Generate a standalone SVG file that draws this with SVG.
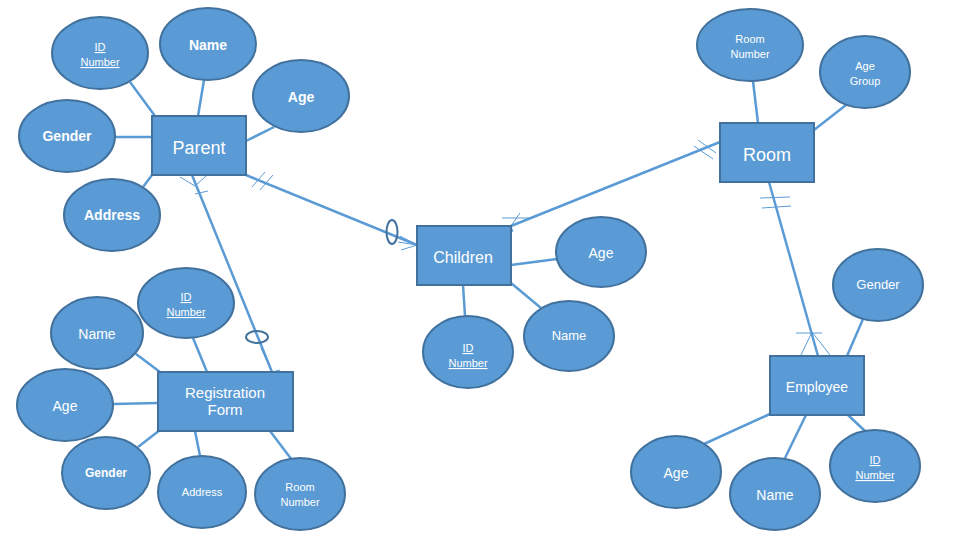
<svg xmlns="http://www.w3.org/2000/svg" width="960" height="540" viewBox="0 0 960 540">
<style>
.e{fill:#5b9bd5;stroke:#41719c;stroke-width:2}
.r{fill:#5b9bd5;stroke:#41719c;stroke-width:2}
.l{stroke:#5b9bd5;stroke-width:2.5;fill:none}
.t{stroke:#5b9bd5;stroke-width:1;fill:none}
text{fill:#fff;font-family:"Liberation Sans",sans-serif;text-anchor:middle}
.s{font-size:11px}.m{font-size:14px}.b{font-size:18px}
.u{text-decoration:underline}
</style>
<rect width="960" height="540" fill="#fff"/>
<g id="connectors">
<line class="l" x1="130" y1="82" x2="155" y2="116"/>
<line class="l" x1="204" y1="80" x2="198" y2="116"/>
<line class="l" x1="274" y1="127" x2="246" y2="141"/>
<line class="l" x1="115" y1="137" x2="152" y2="137"/>
<line class="l" x1="143" y1="187" x2="152" y2="175"/>
<line class="l" x1="246" y1="175" x2="417" y2="245"/>
<line class="l" x1="192" y1="175" x2="272" y2="372"/>
<line class="l" x1="720" y1="142" x2="511" y2="226"/>
<line class="l" x1="769" y1="182" x2="818" y2="356"/>
<line class="l" x1="753" y1="81" x2="758" y2="123"/>
<line class="l" x1="846" y1="105" x2="814" y2="130"/>
<line class="l" x1="511" y1="265" x2="557" y2="259"/>
<line class="l" x1="511" y1="283" x2="541" y2="308"/>
<line class="l" x1="463" y1="285" x2="465" y2="316"/>
<line class="l" x1="863" y1="319" x2="847" y2="356"/>
<line class="l" x1="770" y1="414" x2="704" y2="444"/>
<line class="l" x1="806" y1="415" x2="785" y2="458"/>
<line class="l" x1="848" y1="415" x2="865" y2="431"/>
<line class="l" x1="193" y1="338" x2="207" y2="372"/>
<line class="l" x1="136" y1="354" x2="160" y2="372"/>
<line class="l" x1="113" y1="404" x2="158" y2="403"/>
<line class="l" x1="138" y1="447" x2="160" y2="430"/>
<line class="l" x1="195" y1="431" x2="200" y2="456"/>
<line class="l" x1="270" y1="431" x2="292" y2="460"/>
<!-- decorations -->
<path class="t" d="M252 187 L265 172 M260 190 L273 175"/>
<ellipse cx="392" cy="232" rx="5.5" ry="12" fill="none" stroke="#41719c" stroke-width="2"/>
<path class="t" d="M417 245 L400 236 M417 245 L398 242 M417 245 L401 250"/>
<path class="t" d="M180 177 L195 186 L206 176 M195 194 L208 191"/>
<ellipse cx="257" cy="337" rx="11" ry="6" fill="none" stroke="#41719c" stroke-width="2"/>
<path class="t" d="M272 372 L261 348 M272 372 L262 372 M272 372 L280 370"/>
<path class="t" d="M694 146 L713 159 M698 140 L716 153"/>
<path class="t" d="M502 218 L530 218 M511 226 L520 213 M511 226 L513 232"/>
<path class="t" d="M760 198 L790 197 M762 208 L791 206"/>
<path class="t" d="M796 333 L822 333 M812 332 L801 355 M812 332 L830 355"/>
</g>
<g id="parent"><rect class="r" x="152" y="116" width="94" height="59"/><text class="b" x="199" y="154">Parent</text></g>
<g id="parent-id"><ellipse class="e" cx="100" cy="53" rx="48" ry="36"/><text class="s u" x="100" y="51">ID</text><text class="s u" x="100" y="66">Number</text></g>
<g id="parent-name"><ellipse class="e" cx="208" cy="44" rx="48" ry="36"/><text class="m" x="208" y="50" font-weight="bold">Name</text></g>
<g id="parent-age"><ellipse class="e" cx="301" cy="96" rx="48" ry="36"/><text class="m" x="301" y="102" font-weight="bold">Age</text></g>
<g id="parent-gender"><ellipse class="e" cx="67" cy="136" rx="48" ry="36"/><text class="m" x="67" y="141" font-weight="bold">Gender</text></g>
<g id="parent-address"><ellipse class="e" cx="112" cy="215" rx="48" ry="36"/><text class="m" x="112" y="220" font-weight="bold">Address</text></g>
<g id="room"><rect class="r" x="720" y="123" width="94" height="59"/><text class="b" x="767" y="161">Room</text></g>
<g id="room-number"><ellipse class="e" cx="750" cy="45" rx="53" ry="36"/><text class="s" x="750" y="43">Room</text><text class="s" x="750" y="58">Number</text></g>
<g id="room-agegroup"><ellipse class="e" cx="865" cy="72" rx="45" ry="36"/><text class="s" x="865" y="70">Age</text><text class="s" x="865" y="85">Group</text></g>
<g id="children"><rect class="r" x="417" y="226" width="94" height="59"/><text class="m" x="463" y="263" style="font-size:16px">Children</text></g>
<g id="children-age"><ellipse class="e" cx="601" cy="252" rx="45" ry="35"/><text class="m" x="601" y="258">Age</text></g>
<g id="children-name"><ellipse class="e" cx="569" cy="336" rx="45" ry="35"/><text class="s" x="569" y="340" style="font-size:13px">Name</text></g>
<g id="children-id"><ellipse class="e" cx="468" cy="352" rx="45" ry="36"/><text class="s u" x="468" y="352">ID</text><text class="s u" x="468" y="367">Number</text></g>
<g id="employee"><rect class="r" x="770" y="356" width="94" height="59"/><text class="m" x="817" y="392">Employee</text></g>
<g id="emp-gender"><ellipse class="e" cx="878" cy="285" rx="45" ry="36"/><text class="s" x="878" y="289" style="font-size:13px">Gender</text></g>
<g id="emp-age"><ellipse class="e" cx="676" cy="472" rx="45" ry="36"/><text class="m" x="676" y="478">Age</text></g>
<g id="emp-name"><ellipse class="e" cx="775" cy="494" rx="45" ry="36"/><text class="m" x="775" y="500">Name</text></g>
<g id="emp-id"><ellipse class="e" cx="875" cy="466" rx="45" ry="36"/><text class="s u" x="875" y="464">ID</text><text class="s u" x="875" y="479">Number</text></g>
<g id="regform"><rect class="r" x="158" y="372" width="135" height="59"/><text class="m" x="225" y="398" style="font-size:15px">Registration</text><text class="m" x="225" y="415" style="font-size:15px">Form</text></g>
<g id="rf-id"><ellipse class="e" cx="186" cy="303" rx="48" ry="35"/><text class="s u" x="186" y="301">ID</text><text class="s u" x="186" y="316">Number</text></g>
<g id="rf-name"><ellipse class="e" cx="97" cy="333" rx="46" ry="36"/><text class="m" x="97" y="339">Name</text></g>
<g id="rf-age"><ellipse class="e" cx="65" cy="405" rx="48" ry="36"/><text class="m" x="65" y="411">Age</text></g>
<g id="rf-gender"><ellipse class="e" cx="106" cy="473" rx="44" ry="36"/><text class="s" x="106" y="477" font-weight="bold" style="font-size:12px">Gender</text></g>
<g id="rf-address"><ellipse class="e" cx="202" cy="492" rx="44" ry="36"/><text class="s" x="202" y="496">Address</text></g>
<g id="rf-room"><ellipse class="e" cx="300" cy="494" rx="45" ry="36"/><text class="s" x="300" y="491">Room</text><text class="s" x="300" y="506">Number</text></g>
</svg>
